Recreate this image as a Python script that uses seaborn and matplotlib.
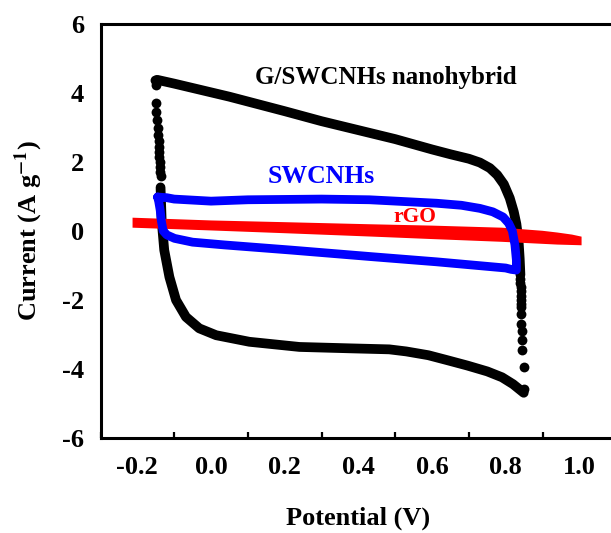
import numpy as np
import matplotlib
matplotlib.use("Agg")
import matplotlib.pyplot as plt
import seaborn as sns
from matplotlib.ticker import MultipleLocator

# ---------------------------------------------------------------------
# Data (potential in V, current in A/g)
# ---------------------------------------------------------------------
# G/SWCNHs nanohybrid: dense parts drawn as a thick trace
hyb_top_x = [-0.146, -0.10, 0.05, 0.20, 0.30, 0.40, 0.50, 0.60, 0.65, 0.70, 0.73, 0.757, 0.777, 0.795,
             0.811, 0.822, 0.829, 0.835, 0.838, 0.840]
hyb_top_y = [4.38, 4.27, 3.89, 3.47, 3.18, 2.92, 2.66, 2.36, 2.22, 2.09, 1.98, 1.82, 1.62, 1.35,
             0.95, 0.55, 0.20, -0.30, -0.80, -1.28]
hyb_bot_x = [0.849, 0.82, 0.79, 0.75, 0.696, 0.64, 0.59, 0.53, 0.484, 0.376, 0.24, 0.104,
             0.014, -0.032, -0.068, -0.095, -0.113, -0.127, -0.134, -0.137]
hyb_bot_y = [-4.70, -4.45, -4.25, -4.08, -3.91, -3.75, -3.61, -3.50, -3.44, -3.41, -3.37, -3.22,
             -3.03, -2.83, -2.50, -2.01, -1.34, -0.56, 0.30, 1.26]
# ... and the sparse sampled points on the steep edges
hyb_left_x = [-0.152, -0.150, -0.149, -0.148, -0.147, -0.145, -0.143, -0.142, -0.141, -0.140,
              -0.140, -0.139, -0.138, -0.138, -0.137]
hyb_left_y = [4.38, 4.22, 3.70, 3.44, 3.20, 2.97, 2.78, 2.60, 2.44, 2.29,
              2.14, 2.00, 1.86, 1.72, 1.58]
hyb_right_x = [0.840, 0.840, 0.841, 0.841, 0.841, 0.841, 0.841, 0.841, 0.841, 0.842, 0.843, 0.844, 0.845, 0.849]
hyb_right_y = [-1.40, -1.52, -1.64, -1.76, -1.88, -2.00, -2.11, -2.22, -2.42, -2.69, -2.91, -3.17, -3.46, -3.95]
hyb_corner_x = [0.849]
hyb_corner_y = [-4.58]

# SWCNHs loop
swc_x = [-0.145, -0.12, -0.10, 0.0, 0.1, 0.3, 0.43, 0.612, 0.68, 0.73, 0.765, 0.793, 0.808, 0.818,
         0.825, 0.829, 0.829, 0.815, 0.80, 0.612, 0.435, 0.218, 0.036, -0.05, -0.099, -0.12,
         -0.130, -0.135, -0.138, -0.142, -0.145]
swc_y = [0.98, 0.96, 0.92, 0.86, 0.90, 0.92, 0.90, 0.80, 0.74, 0.65, 0.55, 0.40, 0.22, 0.0,
         -0.40, -0.85, -1.14, -1.12, -1.08, -0.90, -0.75, -0.56, -0.41, -0.33, -0.22, -0.12,
         0.0, 0.30, 0.60, 0.85, 0.98]

# rGO thin band (upper = anodic edge, lower = cathodic edge)
rgo_up_x = [-0.213, 0.0, 0.2, 0.43, 0.6, 0.79, 0.90, 0.94, 0.98, 1.006]
rgo_up_y = [0.38, 0.30, 0.25, 0.19, 0.15, 0.09, 0.0, -0.05, -0.11, -0.17]
rgo_lo_x = [1.006, 0.94, 0.79, 0.6, 0.44, 0.2, 0.0, -0.213]
rgo_lo_y = [-0.42, -0.40, -0.32, -0.24, -0.17, -0.07, 0.01, 0.09]

x_ticks = [-0.2, 0.0, 0.2, 0.4, 0.6, 0.8, 1.0]
y_ticks = [-6, -4, -2, 0, 2, 4, 6]

# ---------------------------------------------------------------------
# Style
# ---------------------------------------------------------------------
sns.set_style("white")
plt.rcParams["font.family"] = ["Liberation Serif", "DejaVu Serif"]
plt.rcParams["font.weight"] = "bold"
plt.rcParams["mathtext.fontset"] = "stix"
for key in ["text.color", "axes.labelcolor", "xtick.color", "ytick.color"]:
    plt.rcParams[key] = "black"

fig = plt.figure(figsize=(6.11, 5.33), dpi=100)
ax = fig.add_axes([0.1645, 0.179, 0.844, 0.776])

# black hybrid curve
sns.lineplot(x=hyb_top_x, y=hyb_top_y, sort=False, estimator=None, color="black", lw=7,
             solid_capstyle="round", solid_joinstyle="round", ax=ax)
sns.lineplot(x=hyb_bot_x, y=hyb_bot_y, sort=False, estimator=None, color="black", lw=7,
             solid_capstyle="round", solid_joinstyle="round", ax=ax)
sns.scatterplot(x=hyb_left_x + hyb_right_x + hyb_corner_x, y=hyb_left_y + hyb_right_y + hyb_corner_y,
                s=50, color="black", linewidth=0, ax=ax)

# rGO band
ax.fill(rgo_up_x + rgo_lo_x, rgo_up_y + rgo_lo_y, color="#ff0000", lw=0, zorder=3)

# SWCNHs loop
sns.lineplot(x=swc_x, y=swc_y, sort=False, estimator=None, color="#0000ff", lw=6.3,
             solid_capstyle="round", solid_joinstyle="round", ax=ax, zorder=4)

ax.text(0.474, 4.46, "G/SWCNHs nanohybrid", fontsize=18, fontweight="bold", color="black",
        ha="center", va="center")
ax.text(0.299, 1.57, "SWCNHs", fontsize=18.5, fontweight="bold", color="#0000ff",
        ha="center", va="center")
ax.text(0.553, 0.41, "rGO", fontsize=15.5, fontweight="bold", color="#ff0000",
        ha="center", va="center", zorder=5)

ax.set_xlim(-0.3, 1.1)
ax.set_ylim(-6, 6)
ax.set_xticks(x_ticks)
ax.set_xticklabels([f"{v:.1f}" for v in x_ticks])
ax.set_yticks(y_ticks)
ax.set_yticklabels([str(v) for v in y_ticks])
ax.xaxis.set_minor_locator(MultipleLocator(0.1))

ax.tick_params(axis="both", which="major", direction="in", length=8, width=1.6, labelsize=19)
ax.tick_params(axis="x", which="major", pad=13)
ax.tick_params(axis="y", which="major", pad=12)
ax.tick_params(axis="x", which="minor", direction="in", length=4, width=1.6, bottom=True)
ax.tick_params(axis="y", which="minor", left=False)
for side in ["left", "bottom", "top", "right"]:
    ax.spines[side].set_linewidth(2.2)
    ax.spines[side].set_color("black")

ax.set_xlabel("Potential (V)", fontsize=19, fontweight="bold", labelpad=20)
ax.set_ylabel(r"Current (A g$^{\mathbf{-1}}$)", fontsize=19, fontweight="bold", labelpad=12)

fig.savefig("out.png", dpi=100)
